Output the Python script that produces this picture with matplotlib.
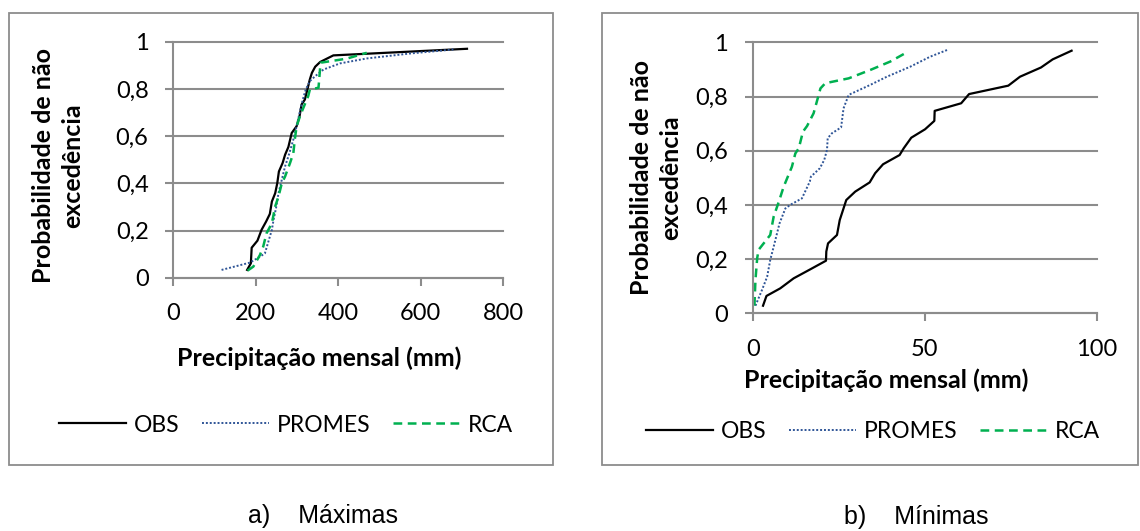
import matplotlib

matplotlib.use("Agg")
import matplotlib.pyplot as plt
from matplotlib.lines import Line2D
from matplotlib.patches import Rectangle
from matplotlib.ticker import FuncFormatter, MultipleLocator

plt.rcParams["font.family"] = ["Lato", "DejaVu Sans"]

W, H = 1140, 531

# a) Máximas - precipitation (mm) vs non-exceedance probability
max_obs_x = [179, 188, 190, 204, 214, 225, 234, 239, 247, 252, 256, 265, 271,
             279, 287, 299, 306, 311, 319, 325, 331, 336, 344, 356, 388, 469, 712]
max_obs_p = [0.033, 0.061, 0.127, 0.157, 0.203, 0.238, 0.27, 0.323, 0.358, 0.40,
             0.45, 0.486, 0.521, 0.554, 0.613, 0.642, 0.684, 0.734, 0.755, 0.797,
             0.84, 0.868, 0.894, 0.914, 0.942, 0.949, 0.97]
max_promes_x = [117, 186, 210, 222, 239, 243, 249, 255, 263, 271, 279, 291, 299,
                307, 314, 321, 331, 344, 364, 404, 469, 574, 679]
max_promes_p = [0.033, 0.064, 0.089, 0.103, 0.203, 0.245, 0.295, 0.358, 0.415,
                0.472, 0.514, 0.585, 0.642, 0.705, 0.755, 0.797, 0.833, 0.854,
                0.882, 0.908, 0.929, 0.95, 0.967]
max_rca_x = [180, 194, 210, 218, 226, 239, 247, 255, 263, 271, 283, 291, 295,
             299, 307, 317, 327, 331, 352, 357, 420, 469]
max_rca_p = [0.03, 0.047, 0.096, 0.132, 0.188, 0.231, 0.302, 0.344, 0.40, 0.429,
             0.486, 0.528, 0.592, 0.642, 0.684, 0.727, 0.769, 0.797, 0.805, 0.911,
             0.928, 0.953]

# b) Mínimas
min_obs_x = [3.0, 4.0, 8.0, 11.9, 16.7, 21.3, 21.4, 21.9, 24.5, 25.3, 27.2, 29.8,
             34.0, 35.6, 37.9, 42.7, 43.9, 46.1, 50.1, 52.8, 52.9, 60.6, 62.9,
             74.3, 77.7, 83.8, 87.2, 92.7]
min_obs_p = [0.028, 0.064, 0.092, 0.129, 0.162, 0.194, 0.228, 0.258, 0.289, 0.344,
             0.418, 0.449, 0.483, 0.517, 0.55, 0.584, 0.609, 0.648, 0.679, 0.71,
             0.747, 0.775, 0.809, 0.84, 0.873, 0.907, 0.937, 0.969]
min_promes_x = [0.8, 2.7, 4.2, 5.1, 6.1, 7.8, 9.5, 10.9, 14.3, 16.6, 16.9, 19.5,
                20.8, 21.6, 21.8, 23.0, 25.7, 26.4, 27.9, 34.2, 39.0, 45.8, 51.6,
                56.6]
min_promes_p = [0.028, 0.086, 0.135, 0.197, 0.246, 0.332, 0.387, 0.40, 0.424,
                0.486, 0.504, 0.535, 0.566, 0.603, 0.646, 0.664, 0.686, 0.756,
                0.806, 0.843, 0.873, 0.91, 0.947, 0.972]
min_rca_x = [0.5, 0.8, 1.3, 1.7, 5.1, 6.1, 7.6, 9.0, 11.4, 12.4, 13.4, 14.6, 15.8,
             17.7, 18.9, 19.7, 21.1, 27.9, 34.2, 40.0, 44.8]
min_rca_p = [0.028, 0.123, 0.203, 0.234, 0.289, 0.357, 0.412, 0.467, 0.541, 0.59,
             0.609, 0.67, 0.691, 0.738, 0.793, 0.83, 0.849, 0.867, 0.898, 0.929,
             0.963]

series_names = ["OBS", "PROMES", "RCA"]
colors = {"OBS": "black", "PROMES": "#2F5597", "RCA": "#00B050"}
styles = {"OBS": "-", "PROMES": (0, (1, 1)), "RCA": (0, (3.5, 2.2))}
widths = {"OBS": 1.6, "PROMES": 1.4, "RCA": 1.8}

ylabel = "Probabilidade de não\nexcedência"
xlabel = "Precipitação mensal (mm)"
grey = "#8C8C8C"
tick_size = 17
legend_size = 16.5
label_size = 18


def fx(x):
    return x / W


def fy(y):
    return 1 - y / H


def comma(v, _):
    return f"{v:g}".replace(".", ",")


def make_axes(fig, left, right, top, bottom, xmax, xstep):
    ax = fig.add_axes([fx(left), fy(bottom), (right - left) / W, (bottom - top) / H])
    ax.set_xlim(0, xmax)
    ax.set_ylim(0, 1)
    ax.xaxis.set_major_locator(MultipleLocator(xstep))
    ax.yaxis.set_major_locator(MultipleLocator(0.2))
    ax.yaxis.set_major_formatter(FuncFormatter(comma))
    for side in ["top", "right"]:
        ax.spines[side].set_visible(False)
    for side in ["left", "bottom"]:
        ax.spines[side].set_color(grey)
        ax.spines[side].set_linewidth(1.5)
    ax.tick_params(direction="out", length=5.8, width=1.5, color=grey,
                   labelsize=tick_size, labelcolor="black")
    ax.tick_params(axis="y", pad=12)
    ax.tick_params(axis="x", pad=12.5)
    ax.grid(axis="y", color=grey, linewidth=1.5)
    for line in ax.get_ygridlines():
        line.set_clip_on(False)
    ax.set_axisbelow(True)
    return ax


def draw_series(ax, data):
    for name, (xs, ps) in zip(series_names, data):
        ax.plot(xs, ps, color=colors[name], linestyle=styles[name],
                linewidth=widths[name], clip_on=False)


fig = plt.figure(figsize=(W / 100, H / 100), dpi=100)

# frames around each chart
for x0, x1 in [(8.5, 553), (602, 1138)]:
    fig.patches.append(Rectangle((fx(x0), fy(465)), (x1 - x0) / W, (465 - 12.7) / H,
                                 transform=fig.transFigure, fill=False,
                                 edgecolor=grey, linewidth=1.3))

ax1 = make_axes(fig, 173.3, 503.3, 41.7, 277.7, 800, 200)
draw_series(ax1, [(max_obs_x, max_obs_p), (max_promes_x, max_promes_p),
                  (max_rca_x, max_rca_p)])

ax2 = make_axes(fig, 752.7, 1096.7, 42.3, 313.3, 100, 50)
draw_series(ax2, [(min_obs_x, min_obs_p), (min_promes_x, min_promes_p),
                  (min_rca_x, min_rca_p)])

# axis titles
for cx, cy in [(58, 166), (656, 178)]:
    fig.text(fx(cx), fy(cy), ylabel, rotation=90, ha="center", va="center",
             multialignment="center", fontsize=label_size, fontweight="bold",
             linespacing=1.3)
fig.text(fx(319), fy(358), xlabel, ha="center", va="center",
         fontsize=label_size, fontweight="bold")
fig.text(fx(886), fy(380), xlabel, ha="center", va="center",
         fontsize=label_size, fontweight="bold")

# legends
handles = [Line2D([], [], color=colors[n], linestyle=styles[n], linewidth=widths[n])
           for n in series_names]
for cx, cy in [(286, 425), (873, 432)]:
    fig.legend(handles, series_names, loc="center", bbox_to_anchor=(fx(cx), fy(cy)),
               ncol=3, frameon=False, fontsize=legend_size, handlelength=2.9,
               handletextpad=0.35, columnspacing=1.0, borderpad=0, borderaxespad=0)

# captions
fig.text(fx(323), fy(516), "a)    Máximas", ha="center", va="center",
         fontsize=18, family="Liberation Sans")
fig.text(fx(916), fy(517), "b)    Mínimas", ha="center", va="center",
         fontsize=18, family="Liberation Sans")

fig.savefig("out.png", dpi=100)
